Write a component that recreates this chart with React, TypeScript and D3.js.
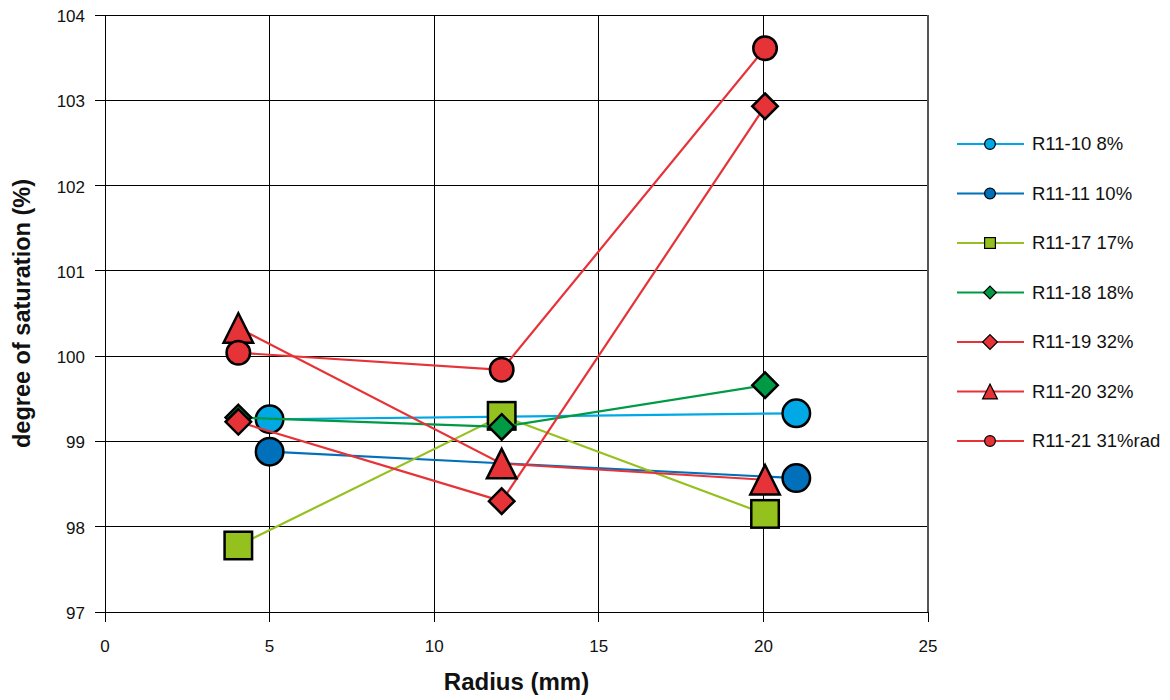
import React from 'react'
import * as d3 from 'd3'

// values
const xTicks = [0, 5, 10, 15, 20, 25]
const yTicks = [97, 98, 99, 100, 101, 102, 103, 104]

const seriesNames = ['R11-10 8%', 'R11-11 10%', 'R11-17 17%', 'R11-18 18%', 'R11-19 32%', 'R11-20 32%', 'R11-21 31%rad']
const seriesColors = ['#00A9E6', '#0070BA', '#95C11F', '#009A44', '#E63338', '#E63338', '#E63338']
const seriesShapes = ['circle', 'circle', 'square', 'diamond', 'diamond', 'triangle', 'circle']
const markerSizes = [15, 15, 15, 14, 14, 16, 13] // half-width in px
const legendSizes = [6, 6, 6, 7, 8, 8, 6]

const r1010x = [5, 21]
const r1010y = [99.26, 99.33]
const r1011x = [5, 21]
const r1011y = [98.88, 98.57]
const r1017x = [4.05, 12.05, 20.05]
const r1017y = [97.78, 99.3, 98.15]
const r1018x = [4.05, 12.05, 20.05]
const r1018y = [99.28, 99.17, 99.66]
const r1019x = [4.05, 12.05, 20.05]
const r1019y = [99.23, 98.3, 102.93]
const r1020x = [4.05, 12.05, 20.05]
const r1020y = [100.33, 98.74, 98.55]
const r1021x = [4.05, 12.05, 20.05]
const r1021y = [100.04, 99.84, 103.61]

const seriesX = [r1010x, r1011x, r1017x, r1018x, r1019x, r1020x, r1021x]
const seriesY = [r1010y, r1011y, r1017y, r1018y, r1019y, r1020y, r1021y]

const W = 1170
const H = 700
const margin = { left: 105, right: 242, top: 15, bottom: 88 }

function Marker({ shape, cx, cy, s, fill, sw }: { shape: string; cx: number; cy: number; s: number; fill: string; sw: number }) {
  if (shape === 'circle') return <circle cx={cx} cy={cy} r={s - sw / 2} fill={fill} stroke="#000" strokeWidth={sw} />
  if (shape === 'square')
    return <rect x={cx - s + sw / 2} y={cy - s + sw / 2} width={2 * s - sw} height={2 * s - sw} fill={fill} stroke="#000" strokeWidth={sw} />
  if (shape === 'diamond') {
    const d = s - sw / 2
    return <polygon points={`${cx},${cy - d} ${cx + d},${cy} ${cx},${cy + d} ${cx - d},${cy}`} fill={fill} stroke="#000" strokeWidth={sw} strokeLinejoin="miter" />
  }
  const d = s - sw / 2
  return <polygon points={`${cx},${cy - d} ${cx + d},${cy + d} ${cx - d},${cy + d}`} fill={fill} stroke="#000" strokeWidth={sw} strokeLinejoin="miter" />
}

export default function App() {
  const x = d3.scaleLinear().domain([0, 25]).range([margin.left, W - margin.right])
  const y = d3.scaleLinear().domain([97, 104]).range([H - margin.bottom, margin.top])
  const line = d3.line<[number, number]>().x(d => x(d[0])).y(d => y(d[1]))
  const font = '"Liberation Sans", Arial, sans-serif'
  const x0 = x(0), x1 = x(25), y0 = y(97), y1 = y(104)

  return (
    <svg width={W} height={H} style={{ position: 'absolute', left: 0, top: 0, background: '#fff' }} fontFamily={font}>
      {/* grid */}
      {xTicks.map(t => (
        <line key={'gx' + t} x1={x(t)} x2={x(t)} y1={y1} y2={y0 + 10} stroke="#000" strokeWidth={1} shapeRendering="crispEdges" />
      ))}
      {yTicks.map(t => (
        <line key={'gy' + t} x1={x0 - 10} x2={x1} y1={y(t)} y2={y(t)} stroke="#000" strokeWidth={1} shapeRendering="crispEdges" />
      ))}
      <line x1={x1} x2={x1} y1={y1} y2={y0} stroke="#555" strokeWidth={2} />
      {/* tick labels */}
      {xTicks.map(t => (
        <text key={'tx' + t} x={x(t)} y={652} textAnchor="middle" fontSize={17} fill="#111">{t}</text>
      ))}
      {yTicks.map(t => (
        <text key={'ty' + t} x={85} y={y(t) + 7} textAnchor="end" fontSize={17} fill="#111">{t}</text>
      ))}
      <text x={(x0 + x1) / 2} y={690} textAnchor="middle" fontSize={24} fontWeight="bold" fill="#111">Radius (mm)</text>
      <text transform={`translate(30,${(y0 + y1) / 2}) rotate(-90)`} textAnchor="middle" fontSize={23.5} fontWeight="bold" fill="#111">degree of saturation (%)</text>

      {/* series */}
      {seriesNames.map((name, i) => {
        const pts = seriesX[i].map((v, j) => [v, seriesY[i][j]] as [number, number])
        return (
          <g key={name}>
            <path d={line(pts) || ''} fill="none" stroke={seriesColors[i]} strokeWidth={2.2} />
            {pts.map((p, j) => (
              <Marker key={j} shape={seriesShapes[i]} cx={x(p[0])} cy={y(p[1])} s={markerSizes[i]} fill={seriesColors[i]} sw={2.5} />
            ))}
          </g>
        )
      })}

      {/* legend */}
      {seriesNames.map((name, i) => {
        const ly = 144 + i * 49.5
        return (
          <g key={'lg' + name}>
            <line x1={957} x2={1024} y1={ly} y2={ly} stroke={seriesColors[i]} strokeWidth={2.2} />
            <Marker shape={seriesShapes[i]} cx={990} cy={ly} s={legendSizes[i]} fill={seriesColors[i]} sw={1.2} />
            <text x={1032} y={ly + 6} fontSize={18.5} fill="#111">{name}</text>
          </g>
        )
      })}
    </svg>
  )
}
